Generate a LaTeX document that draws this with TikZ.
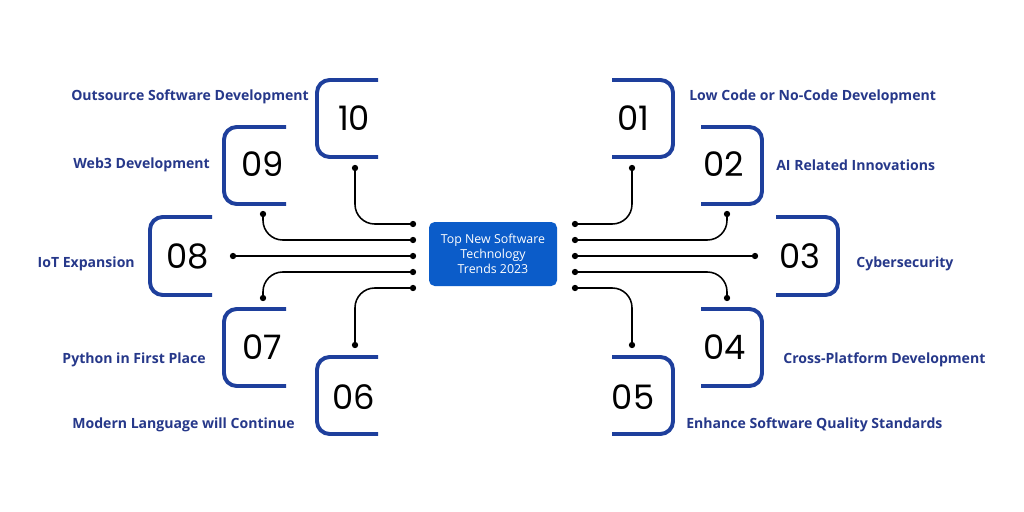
\documentclass[tikz,border=0pt]{standalone}
\usepackage{fontspec}
\setmainfont{Open Sans}
\newfontfamily\numfont{Poppins}
\begin{document}
\begin{tikzpicture}[x=0.025cm,y=-0.025cm,
  brk/.style={draw=brkblue,line width=2.8pt,rounded corners=9pt},
  num/.style={font=\numfont\fontsize{24}{26}\selectfont,text=black},
  lbl/.style={font=\fontsize{10}{12}\selectfont\bfseries,text=lblblue,inner sep=0},
  con/.style={draw=black,line width=1.1pt,rounded corners=14pt},
  dot/.style={circle,fill=black,inner sep=0,minimum size=4.5pt}]
\definecolor{brkblue}{HTML}{1E3F9C}
\definecolor{lblblue}{HTML}{26388A}
\definecolor{boxblue}{HTML}{0B5CC9}
\useasboundingbox (0,0) rectangle (1024,512);
\fill[white] (0,0) rectangle (1024,512);
% central box
\node[fill=boxblue,rounded corners=4pt,minimum width=128*0.025cm,minimum height=64*0.025cm,text=white,align=center,font=\fontsize{8.8}{10.5}\selectfont,inner sep=1pt] (c) at (493,254) {Top New Software\\Technology\\Trends 2023};
% left brackets
\draw[brk] (378,80) -- (317,80) -- (317,157) -- (378,157);
\draw[brk] (286,127) -- (224,127) -- (224,204) -- (286,204);
\draw[brk] (212,217) -- (150,217) -- (150,295) -- (212,295);
\draw[brk] (286,309) -- (224,309) -- (224,386) -- (286,386);
\draw[brk] (378,357) -- (317,357) -- (317,434) -- (378,434);
% right brackets
\draw[brk] (612,80) -- (673,80) -- (673,157) -- (612,157);
\draw[brk] (701,127) -- (762,127) -- (762,204) -- (701,204);
\draw[brk] (776,217) -- (838,217) -- (838,295) -- (776,295);
\draw[brk] (701,309) -- (762,309) -- (762,386) -- (701,386);
\draw[brk] (612,357) -- (673,357) -- (673,434) -- (612,434);
% numbers
\node[num] (n10) at (354,118) {10};
\node[num] (n09) at (263,164) {09};
\node[num] (n08) at (188,256) {08};
\node[num] (n07) at (262,347) {07};
\node[num] (n06) at (354,397) {06};
\node[num] (n01) at (633,118) {01};
\node[num] (n02) at (724,164) {02};
\node[num] (n03) at (800,256) {03};
\node[num] (n04) at (725,347) {04};
\node[num] (n05) at (633,397) {05};
% labels
\node[lbl,anchor=east] (l10) at (309,97) {Outsource Software Development};
\node[lbl,anchor=east] (l09) at (210,165) {Web3 Development};
\node[lbl,anchor=east] (l08) at (135,264) {IoT Expansion};
\node[lbl,anchor=east] (l07) at (206,360) {Python in First Place};
\node[lbl,anchor=east] (l06) at (295,425) {Modern Language will Continue};
\node[lbl,anchor=west] (l01) at (689,97) {Low Code or No-Code Development};
\node[lbl,anchor=west] (l02) at (776,165) {AI Related Innovations};
\node[lbl,anchor=west] (l03) at (856,264) {Cybersecurity};
\node[lbl,anchor=west] (l04) at (783,360) {Cross-Platform Development};
\node[lbl,anchor=west] (l05) at (686,425) {Enhance Software Quality Standards};
% connector end dots
\foreach \n/\x/\y in {a1/413/224,a2/413/240,a3/413/256,a4/413/272,a5/413/288,
  b1/575/224,b2/575/240,b3/575/256,b4/575/272,b5/575/288,
  e10/355/168,e09/263/214,e08/233/256,e07/263/298,e06/355/345,
  e01/632/168,e02/727/214,e03/755/256,e04/727/298,e05/632/345}
  \node[dot] (\n) at (\x,\y) {};
\draw[con] (e10.center) |- (a1.center);
\draw[con] (e09.center) |- (a2.center);
\draw[con] (e08.center) -- (a3.center);
\draw[con] (e07.center) |- (a4.center);
\draw[con] (e06.center) |- (a5.center);
\draw[con] (e01.center) |- (b1.center);
\draw[con] (e02.center) |- (b2.center);
\draw[con] (e03.center) -- (b3.center);
\draw[con] (e04.center) |- (b4.center);
\draw[con] (e05.center) |- (b5.center);
\end{tikzpicture}
\end{document}
